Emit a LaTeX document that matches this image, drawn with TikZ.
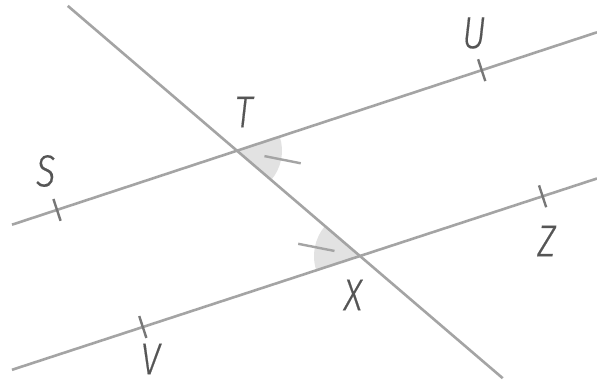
\documentclass[tikz,border=0pt]{standalone}
\usepackage{fontspec}
\newfontfamily\lblfont[FakeStretch=0.8, FakeBold=0.35]{Fira Sans Light}
\usetikzlibrary{calc}
\definecolor{linegray}{HTML}{A4A4A4}
\definecolor{textgray}{HTML}{555555}
\definecolor{anglegray}{HTML}{E2E2E2}
\tikzset{
  mainline/.style={draw=linegray, line width=2.6pt},
  tickmark/.style={draw=textgray!80, line width=2.4pt},
  angletick/.style={draw=linegray, line width=2.4pt},
  anglefill/.style={fill=anglegray},
  lbl/.style={text=textgray, font=\lblfont\itshape\fontsize{45}{45}\selectfont, inner sep=0pt}
}
\begin{document}
\begin{tikzpicture}[x=1pt,y=1pt]
\useasboundingbox[fill=white] (0,0) rectangle (597,385);
% points
\coordinate (T) at (237,234.3);
\coordinate (X) at (360,129);
\coordinate (A1) at (12,160.3);
\coordinate (A2) at (597,352.7);
\coordinate (B1) at (12,15.2);
\coordinate (B2) at (597,206.5);
\coordinate (C1) at (67.8,379.1);
\coordinate (C2) at (502.7,6.8);
\coordinate (S) at (57,175.1);
\coordinate (U) at (481.7,314.8);
\coordinate (V) at (142.8,58);
\coordinate (Z) at (542.6,188.7);
% angle sectors
\fill[anglefill] (T) -- ++(18.21:45) arc (18.21:-40.56:45) -- cycle;
\fill[anglefill] (X) -- ++(139.44:46) arc (139.44:198.21:46) -- cycle;
% lines
\draw[mainline] (A1) -- (A2);
\draw[mainline] (B1) -- (B2);
\draw[mainline] (C1) -- (C2);
% point ticks
\draw[tickmark] ($(S)!11.5pt!90:(T)$) -- ($(S)!11.5pt!-90:(T)$);
\draw[tickmark] ($(U)!11.5pt!90:(T)$) -- ($(U)!11.5pt!-90:(T)$);
\draw[tickmark] ($(V)!11.5pt!90:(X)$) -- ($(V)!11.5pt!-90:(X)$);
\draw[tickmark] ($(Z)!11.5pt!90:(X)$) -- ($(Z)!11.5pt!-90:(X)$);
% angle ticks
\draw[angletick] ($(T)+(-11.17:28)$) -- ($(T)+(-11.17:65)$);
\draw[angletick] ($(X)+(168.83:26)$) -- ($(X)+(168.83:63)$);
% labels
\node[lbl] (lU) at (474,352) {U};
\node[lbl] (lT) at (243.7,273) {T};
\node[lbl] (lS) at (45.7,214) {S};
\node[lbl] (lZ) at (546.5,144) {Z};
\node[lbl] (lX) at (353,90) {X};
\node[lbl] (lV) at (150.4,26) {V};
\end{tikzpicture}
\end{document}
